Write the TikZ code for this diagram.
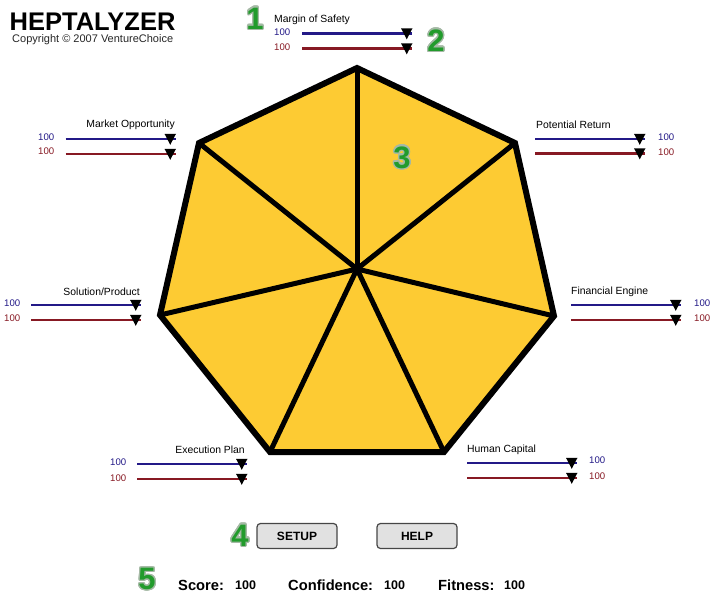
\documentclass[tikz,border=0pt]{standalone}
\usepackage{fontspec}
\setmainfont{Liberation Sans}
\usepackage[copies]{contour}
\contourlength{1.3pt}
\contournumber{24}
\definecolor{hfill}{RGB}{253,203,51}
\definecolor{hblue}{RGB}{35,25,135}
\definecolor{hred}{RGB}{135,25,35}
\definecolor{hgreen}{RGB}{34,155,44}
\definecolor{hglow}{RGB}{165,185,165}
\definecolor{hbtn}{RGB}{225,225,225}
\definecolor{hbtnb}{RGB}{70,70,70}
\tikzset{
 x=1pt,y=-1pt,
 wedge/.style={draw=black,line width=6pt,line join=miter},
 spoke/.style={draw=black,line width=5pt},
 lab/.style={font=\fontsize{10.4}{12}\selectfont,text=black,inner sep=0pt},
 numb/.style={font=\fontsize{9.6}{12}\selectfont,inner sep=0pt,anchor=west},
 sbar/.style={line width=2.2pt},
 tip/.style={fill=black,draw=none},
 badge/.style={font=\fontsize{31}{33}\selectfont\bfseries,text=hgreen,inner sep=0pt},
 btn/.style={draw=hbtnb,fill=hbtn,line width=1.2pt,rounded corners=3.5pt,minimum width=80pt,minimum height=25pt,inner sep=0pt,font=\fontsize{12}{14}\selectfont\bfseries},
 stat/.style={font=\fontsize{14.7}{16}\selectfont\bfseries,inner sep=0pt,anchor=west},
 statn/.style={font=\fontsize{12.5}{14}\selectfont\bfseries,inner sep=0pt,anchor=west},
}
% #1 name, #2 left x of bar, #3 top bar y, #4 bottom bar y
\newcommand\sliderpair[4]{%
 \coordinate (#1a) at (#2,#3); \coordinate (#1b) at (#2+110,#3);
 \coordinate (#1c) at (#2,#4); \coordinate (#1d) at (#2+110,#4);
 \draw[sbar,hblue] (#1a) -- (#1b);
 \draw[sbar,hred] (#1c) -- (#1d);
 \fill[tip] ([xshift=-11pt,yshift=5.2pt]#1b) -- ++(11.5,0) -- ++(-5.75,11) -- cycle;
 \fill[tip] ([xshift=-11pt,yshift=5.2pt]#1d) -- ++(11.5,0) -- ++(-5.75,11) -- cycle;
}
\begin{document}
\begin{tikzpicture}
\useasboundingbox (0,0) rectangle (713,595);
\coordinate (O) at (357,269);
\coordinate (v1) at (357,68);
\coordinate (v2) at (515,143);
\coordinate (v3) at (554,316);
\coordinate (v4) at (444,452);
\coordinate (v5) at (270,452);
\coordinate (v6) at (160,315);
\coordinate (v7) at (199,143);
\filldraw[wedge,fill=hfill] (v1) -- (v2) -- (v3) -- (v4) -- (v5) -- (v6) -- (v7) -- cycle;
\foreach \v in {v1,v2,v3,v4,v5,v6,v7} \draw[spoke] (O) -- (\v);

\node[anchor=west,inner sep=0pt,font=\fontsize{25.5}{28}\selectfont\bfseries] (title) at (9.5,21.5) {HEPTALYZER};
\node[anchor=west,inner sep=0pt,font=\fontsize{11}{13}\selectfont,text=black!85] (copy) at (12,40) {Copyright © 2007 VentureChoice};

\sliderpair{ms}{302}{33.5}{48.5}
\sliderpair{mo}{65.5}{139}{154}
\sliderpair{pr}{535}{139}{153.5}
\sliderpair{fe}{571}{305}{320}
\sliderpair{sp}{31}{305}{320}
\sliderpair{ep}{137}{464}{479}
\sliderpair{hc}{467}{463}{478}

\node[lab,anchor=west] (lms) at (274,19.5) {Margin of Safety};
\node[lab,anchor=east] (lmo) at (175,124.5) {Market Opportunity};
\node[lab,anchor=west] (lpr) at (536,124.5) {Potential Return};
\node[lab,anchor=west] (lfe) at (571,291.5) {Financial Engine};
\node[lab,anchor=east] (lsp) at (140,291.5) {Solution/Product};
\node[lab,anchor=east] (lep) at (245,449.5) {Execution Plan};
\node[lab,anchor=west] (lhc) at (467,449.5) {Human Capital};

\node[numb,text=hblue] (nms1) at (274,32) {100};
\node[numb,text=hred]  (nms2) at (274,47) {100};
\node[numb,text=hblue] (nmo1) at (38,137.5) {100};
\node[numb,text=hred]  (nmo2) at (38,151.5) {100};
\node[numb,text=hblue] (npr1) at (658,137.5) {100};
\node[numb,text=hred]  (npr2) at (658,152) {100};
\node[numb,text=hblue] (nfe1) at (694,303.5) {100};
\node[numb,text=hred]  (nfe2) at (694,318.5) {100};
\node[numb,text=hblue] (nsp1) at (4,303.5) {100};
\node[numb,text=hred]  (nsp2) at (4,318.5) {100};
\node[numb,text=hblue] (nep1) at (110,462) {100};
\node[numb,text=hred]  (nep2) at (110,478) {100};
\node[numb,text=hblue] (nhc1) at (589,460.5) {100};
\node[numb,text=hred]  (nhc2) at (589,476.5) {100};

\node[badge] (b1) at (255,19) {\contour{hglow}{1}};
\node[badge] (b2) at (436,41) {\contour{hglow}{2}};
\node[badge] (b3) at (402,158) {\contour{hglow}{3}};
\node[badge] (b4) at (240,536) {\contour{hglow}{4}};
\node[badge] (b5) at (147,579.5) {\contour{hglow}{5}};

\node[btn] (setup) at (297,536) {SETUP};
\node[btn] (help) at (417,536) {HELP};

\node[stat] (s1) at (178,585.5) {Score:};
\node[statn] (s2) at (235,585.5) {100};
\node[stat] (s3) at (288,585.5) {Confidence:};
\node[statn] (s4) at (384,585.5) {100};
\node[stat] (s5) at (438,585.5) {Fitness:};
\node[statn] (s6) at (504,585.5) {100};
\end{tikzpicture}
\end{document}
